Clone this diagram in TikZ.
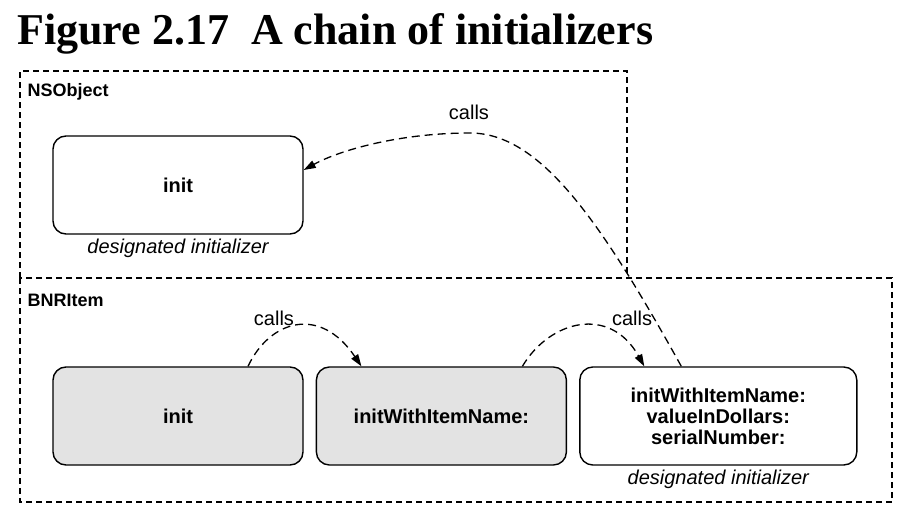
\documentclass[tikz,border=0pt]{standalone}
\usepackage{fontspec}
\setmainfont{Liberation Serif}
\setsansfont{Liberation Sans}
\usetikzlibrary{arrows.meta,positioning}

\tikzset{
  classbox/.style={draw,dash pattern=on 6pt off 4pt,line width=1.6pt},
  methodbox/.style={draw,rounded corners=13pt,line width=1.4pt,minimum height=98pt,
    font=\sffamily\bfseries\fontsize{20}{20}\selectfont,align=center},
  callline/.style={dash pattern=on 8pt off 5pt,line width=1.3pt,
    -{Triangle[length=12pt,width=8pt]}},
  lbl/.style={font=\sffamily\fontsize{20}{20}\selectfont},
}

\begin{document}
\begin{tikzpicture}[x=1pt,y=-1pt]
\useasboundingbox (0,0) rectangle (914,516);

\node[anchor=base west,inner sep=0pt,font=\bfseries\fontsize{44}{44}\selectfont] (title) at (17,45) {Figure 2.17\ \ A chain of initializers};

% class containers
\draw[classbox] (20,278) rectangle (892,502);
\draw[classbox] (20,278) -- (20,71) -- (627,71) -- (627,278);
\node[lbl,font=\sffamily\bfseries\fontsize{18}{18}\selectfont,anchor=west] (nsobj) at (24,92) {NSObject};
\node[lbl,font=\sffamily\bfseries\fontsize{18}{18}\selectfont,anchor=west] (bnr) at (24,300) {BNRItem};

% NSObject
\node[methodbox,minimum width=250pt] (nsinit) at (178,185) {init};
\node[lbl,font=\sffamily\itshape\fontsize{20}{20}\selectfont,below=1pt of nsinit] (nsdes) {designated initializer};

% BNRItem
\node[methodbox,minimum width=250pt,fill=black!11] (binit) at (178,416) {init};
\node[methodbox,minimum width=250pt,fill=black!11,right=12pt of binit] (bname) {initWithItemName:};
\node[methodbox,minimum width=277pt,right=12pt of bname] (bfull) {initWithItemName:\\[1pt]valueInDollars:\\[1pt]serialNumber:};
\node[lbl,font=\sffamily\itshape\fontsize{20}{20}\selectfont,below=1pt of bfull] (bdes) {designated initializer};

% calls
\draw[callline] ([xshift=70pt]binit.north) .. controls (270,320) and (320,305) .. ([xshift=-80pt]bname.north);
\node[lbl] (c1) at (274,318) {calls};
\draw[callline] ([xshift=81pt]bname.north) .. controls (550,320) and (610,305) .. ([xshift=-74pt]bfull.north);
\node[lbl] (c2) at (632,318) {calls};
\draw[callline] ([xshift=-37pt]bfull.north) .. controls (600,220) and (540,133) .. (470,133)
  .. controls (400,133) and (340,150) .. ([yshift=15pt]nsinit.east);
\node[lbl] (c3) at (469,112) {calls};
\end{tikzpicture}
\end{document}
